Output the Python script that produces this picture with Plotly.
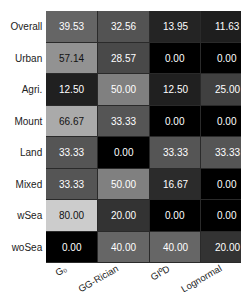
import plotly.graph_objects as go

rows = ["Overall", "Urban", "Agri.", "Mount", "Land", "Mixed", "wSea", "woSea"]
cols = ["G₀", "GG-Rician", "GI⁰D", "Lognormal"]
g0 = [39.53, 57.14, 12.50, 66.67, 33.33, 33.33, 80.00, 0.00]
gg_rician = [32.56, 28.57, 50.00, 33.33, 0.00, 50.00, 20.00, 40.00]
gi0d = [13.95, 0.00, 12.50, 0.00, 33.33, 16.67, 0.00, 40.00]
lognormal = [11.63, 0.00, 25.00, 0.00, 33.33, 0.00, 0.00, 20.00]

series = [g0, gg_rician, gi0d, lognormal]
z = [[series[j][i] for j in range(len(cols))] for i in range(len(rows))]

fig = go.Figure(go.Heatmap(
    z=z, x=cols, y=rows,
    colorscale=[[0, "#000000"], [1, "#ffffff"]],
    zmin=0, zmax=100, showscale=False,
    xgap=1, ygap=1, hoverinfo="skip",
))

for i, r in enumerate(rows):
    for j, c in enumerate(cols):
        v = z[i][j]
        fig.add_annotation(x=c, y=r, text=f"{v:.2f}", showarrow=False,
                           font=dict(size=10, color="#111111" if v > 55 else "#ffffff",
                                     family="Liberation Sans, Arial"))

for c in cols:
    fig.add_annotation(x=c, y=0, xref="x", yref="paper", text=c, showarrow=False,
                       textangle=-30, xanchor="right", yanchor="top",
                       xshift=-1, yshift=3,
                       font=dict(size=9.5, color="#222222", family="Liberation Sans, Arial"))

fig.update_layout(
    width=249, height=292,
    margin=dict(l=38, r=4, t=3, b=37),
    paper_bgcolor="white", plot_bgcolor="#2a2a2a",
    font=dict(family="Liberation Sans, Arial", size=10, color="#222222"),
)
fig.update_xaxes(showticklabels=False, showgrid=False, zeroline=False, ticks="")
fig.update_yaxes(autorange="reversed", showgrid=False, zeroline=False, ticks="",
                 tickfont=dict(size=10), ticksuffix=" ")

fig.write_html("out.html")
